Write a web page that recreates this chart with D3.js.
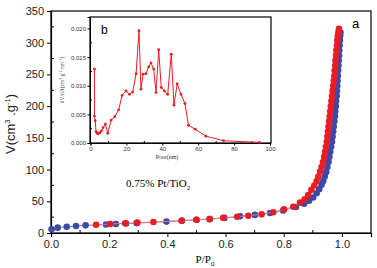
<!DOCTYPE html>
<html><head><meta charset="utf-8">
<script src="https://cdn.jsdelivr.net/npm/d3@7"></script>
<style>body{margin:0;background:#fff}svg{display:block}</style>
</head><body>
<svg id="c" width="377" height="268"></svg>
<script>
// Main isotherm data (P/P0, V)
const redX = [0.155,0.203,0.255,0.297,0.352,0.449,0.500,0.546,0.592,0.640,0.678,0.724,0.764,0.801,0.833,0.856,0.872,0.884,0.895,0.905,0.913,0.919,0.925,0.930,0.935,0.939,0.942,0.945,0.948,0.950,0.952,0.954,0.956,0.958,0.960,0.962,0.964,0.966,0.968,0.970,0.972,0.974,0.975,0.977,0.978,0.980,0.981,0.983,0.984,0.986,0.988,0.990];
const redY = [13,14.2,15.2,16.3,17.3,19.4,21,22,24,25.7,27.3,29.4,32.6,37.3,41.5,48,53,60,68,75,82,89,97,104,112,120,128,136,144,152,160,168,176,184,192,200,208,216,224,232,240,248,256,264,272,280,288,296,304,311,317,322];
const blueX = [0.002,0.023,0.054,0.086,0.119,0.189,0.223,0.258,0.294,0.397,0.450,0.500,0.545,0.596,0.650,0.701,0.753,0.798,0.842,0.870,0.887,0.901,0.913,0.922,0.930,0.936,0.941,0.946,0.950,0.954,0.957,0.960,0.963,0.966,0.968,0.970,0.972,0.974,0.976,0.977,0.979,0.980,0.982,0.983,0.984,0.985,0.986,0.987,0.988,0.989,0.990,0.991,0.992,0.993,0.994,0.995];
const blueY = [6,8.4,9.8,11,12.1,13.5,14.2,14.9,15.6,18,19.5,20.8,21.8,23.8,26.3,28.5,31.5,35.5,41,46,51,56,62.6,69,76,82,89,96,104,112,120,128,136,144,152,160,168,176,184,192,200,208,216,224,232,240,248,256,264,272,280,288,296,304,311,316];
// Inset pore size distribution
const poreX = [2.2,2.2,2.6,3.1,3.7,4.4,5.2,6.1,7.0,8.3,9.6,11.5,13.5,15.7,17.6,19.8,21.7,23.5,25.4,27.0,28.1,29.3,30.9,32.4,33.7,35.2,36.5,38.0,39.4,41.1,43.0,45.0,46.5,48.3,50.4,52.6,54.6,58.3,64.3,74.1,94.1];
const poreY = [0.0129,0.0047,0.0039,0.0020,0.0017,0.0016,0.0018,0.0021,0.0027,0.0033,0.0017,0.0040,0.0046,0.0058,0.0083,0.0091,0.0085,0.0089,0.0121,0.0196,0.0094,0.0120,0.0121,0.0133,0.0140,0.0129,0.0088,0.0163,0.0097,0.0091,0.0085,0.0155,0.0066,0.0103,0.0085,0.0069,0.0031,0.0024,0.0012,0.0004,0.0001];
const mainXTicks = [0.0,0.2,0.4,0.6,0.8,1.0];
const mainYTicks = [0,50,100,150,200,250,300,350];
const insetXTicks = [0,20,40,60,80,100];
const insetYTicks = [0,0.005,0.010,0.015,0.020];

const svg = d3.select('#c');
const RED = '#ec1c24', BLUE = '#3b4aa6';
const L = 51, R = 371, T = 11, B = 233;
const x = d3.scaleLinear().domain([0,1.1]).range([L,R]);
const y = d3.scaleLinear().domain([0,350]).range([B,T]);

// frame
svg.append('rect').attr('x',L).attr('y',T).attr('width',R-L).attr('height',B-T)
  .attr('fill','none').attr('stroke','#000').attr('stroke-width',1.2);

const xAx = svg.append('g').attr('transform',`translate(0,${B})`)
  .call(d3.axisBottom(x).tickValues(mainXTicks).tickFormat(d3.format('.1f')).tickSize(4).tickPadding(3));
const yAx = svg.append('g').attr('transform',`translate(${L},0)`)
  .call(d3.axisLeft(y).tickValues(mainYTicks).tickFormat(d3.format('d')).tickSize(4).tickPadding(3));
[xAx,yAx].forEach(g=>{g.select('.domain').attr('stroke-width',1.2);
  g.selectAll('text').attr('font-family','Liberation Sans, Arial, sans-serif').attr('font-size',11).attr('fill','#222');});
// minor ticks (inward)
const xMin = [0.1,0.3,0.5,0.7,0.9];
svg.append('g').selectAll('line').data(xMin).join('line')
  .attr('x1',d=>x(d)).attr('x2',d=>x(d)).attr('y1',B).attr('y2',B-3).attr('stroke','#000');
const yMin = [25,75,125,175,225,275,325];
svg.append('g').selectAll('line').data(yMin).join('line')
  .attr('x1',L).attr('x2',L+3).attr('y1',d=>y(d)).attr('y2',d=>y(d)).attr('stroke','#000');

// series
function series(xs, ys, col, lineCol){
  const pts = xs.map((v,i)=>[v,ys[i]]);
  svg.append('path').datum(pts).attr('fill','none').attr('stroke',lineCol).attr('stroke-width',1)
    .attr('d',d3.line().x(d=>x(d[0])).y(d=>y(d[1])));
  svg.append('g').selectAll('circle').data(pts).join('circle')
    .attr('cx',d=>x(d[0])).attr('cy',d=>y(d[1])).attr('r',3.3).attr('fill',col);
}
series(blueX, blueY, BLUE, '#7a80c8');
series(redX, redY, RED, '#f07a80');

// labels
svg.append('text').attr('x',352).attr('y',28).attr('font-family','Liberation Sans, Arial, sans-serif')
  .attr('font-size',13).text('a');
const xl = svg.append('text').attr('x',205).attr('y',263).attr('text-anchor','middle')
  .attr('font-family','Liberation Serif, Times New Roman, serif').attr('font-size',11);
xl.append('tspan').text('P/P');
xl.append('tspan').attr('font-size',7).attr('dy',2.5).text('0');
const yl = svg.append('text').attr('transform','translate(15,124) rotate(-90)').attr('text-anchor','middle')
  .attr('font-family','Liberation Sans, Arial, sans-serif').attr('font-size',13).attr('fill','#222');
yl.append('tspan').text('V(cm');
yl.append('tspan').attr('font-size',7.5).attr('dy',-5.5).text('3');
yl.append('tspan').attr('dy',5.5).text(' .g');
yl.append('tspan').attr('font-size',7.5).attr('dy',-5.5).text('-1');
yl.append('tspan').attr('dy',5.5).text(')');
const ct = svg.append('text').attr('x',126).attr('y',187)
  .attr('font-family','Liberation Serif, Times New Roman, serif').attr('font-size',11);
ct.append('tspan').text('0.75% Pt/TiO');
ct.append('tspan').attr('font-size',7).attr('dy',2.5).text('2');

// inset
const iL = 90, iR = 271, iT = 17, iB = 143;
const ix = d3.scaleLinear().domain([0,100]).range([iL+0.5,iR-1]);
const iy = d3.scaleLinear().domain([0,0.022]).range([iB,iT]);
svg.append('rect').attr('x',iL).attr('y',iT).attr('width',iR-iL).attr('height',iB-iT)
  .attr('fill','#fff').attr('stroke','#000').attr('stroke-width',1.2);
const ixa = svg.append('g').attr('transform',`translate(0,${iB})`)
  .call(d3.axisBottom(ix).tickValues(insetXTicks).tickSize(2.5).tickPadding(1.5));
const iya = svg.append('g').attr('transform',`translate(${iL},0)`)
  .call(d3.axisLeft(iy).tickValues(insetYTicks).tickFormat(d3.format('.3f')).tickSize(2.5).tickPadding(1.5));
[ixa,iya].forEach(g=>{g.selectAll('text').attr('font-family','Liberation Sans, Arial, sans-serif').attr('font-size',6).attr('fill','#333');});
svg.append('g').selectAll('line').data([10,30,50,70,90]).join('line')
  .attr('x1',d=>ix(d)).attr('x2',d=>ix(d)).attr('y1',iB).attr('y2',iB-2).attr('stroke','#000');
svg.append('g').selectAll('line').data([0.0025,0.0075,0.0125,0.0175]).join('line')
  .attr('x1',iL).attr('x2',iL+2).attr('y1',d=>iy(d)).attr('y2',d=>iy(d)).attr('stroke','#000');
const ipts = poreX.map((v,i)=>[v,poreY[i]]);
svg.append('path').datum(ipts).attr('fill','none').attr('stroke',RED).attr('stroke-width',1)
  .attr('d',d3.line().x(d=>ix(d[0])).y(d=>iy(d[1])));
svg.append('g').selectAll('circle').data(ipts).join('circle')
  .attr('cx',d=>ix(d[0])).attr('cy',d=>iy(d[1])).attr('r',1.4).attr('fill',RED);
svg.append('text').attr('x',101).attr('y',34).attr('font-family','Liberation Sans, Arial, sans-serif')
  .attr('font-size',12).text('b');
svg.append('text').attr('x',167).attr('y',159).attr('text-anchor','middle')
  .attr('font-family','Liberation Serif, Times New Roman, serif').attr('font-size',6).attr('fill','#333').text('Pore(nm)');
const iyl = svg.append('text').attr('transform','translate(64,80) rotate(-90)').attr('text-anchor','middle')
  .attr('font-family','Liberation Serif, Times New Roman, serif').attr('font-size',5.5).attr('fill','#333');
iyl.append('tspan').text('dV/dA(cm');
iyl.append('tspan').attr('font-size',4).attr('dy',-2).text('3');
iyl.append('tspan').attr('dy',2).text(' g');
iyl.append('tspan').attr('font-size',4).attr('dy',-2).text('-1');
iyl.append('tspan').attr('dy',2).text(' nm');
iyl.append('tspan').attr('font-size',4).attr('dy',-2).text('-1');
iyl.append('tspan').attr('dy',2).text(')');
</script>
</body></html>
